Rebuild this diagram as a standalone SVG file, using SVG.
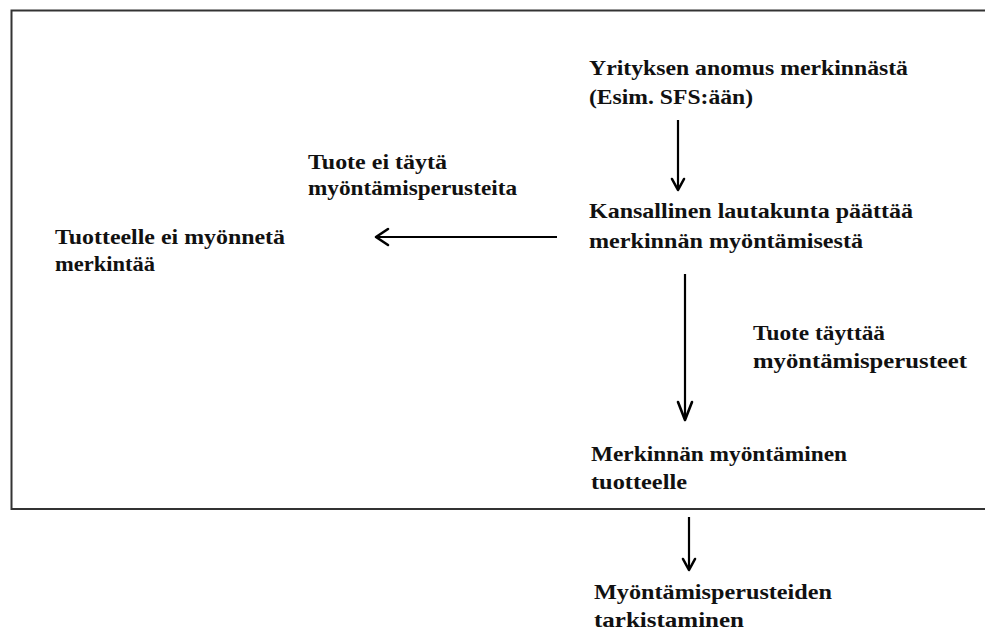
<svg xmlns="http://www.w3.org/2000/svg" width="985" height="634" viewBox="0 0 985 634">
<style>
text{font-family:"Liberation Serif","Times New Roman",serif;font-weight:bold;font-size:21px;fill:#111}
.ln{stroke:#000;stroke-width:2.2;fill:none}
.hd{stroke:#000;stroke-width:2.6;fill:none;stroke-linejoin:round;stroke-linecap:round}
</style>
<rect width="985" height="634" fill="#fff"/>
<path d="M990 10.5 H11.5 V509 H990" fill="none" stroke="#333" stroke-width="2"/>
<g id="n1"><text x="589" y="75" textLength="319" lengthAdjust="spacingAndGlyphs">Yrityksen anomus merkinnästä</text><text x="589" y="104" textLength="164" lengthAdjust="spacingAndGlyphs">(Esim. SFS:ään)</text></g>
<g id="n2"><text x="589" y="218" textLength="324" lengthAdjust="spacingAndGlyphs">Kansallinen lautakunta päättää</text><text x="589" y="248" textLength="274" lengthAdjust="spacingAndGlyphs">merkinnän myöntämisestä</text></g>
<g id="n3"><text x="55" y="244" textLength="230" lengthAdjust="spacingAndGlyphs">Tuotteelle ei myönnetä</text><text x="55" y="271" textLength="100" lengthAdjust="spacingAndGlyphs">merkintää</text></g>
<g id="n4"><text x="591" y="461" textLength="256" lengthAdjust="spacingAndGlyphs">Merkinnän myöntäminen</text><text x="591" y="489" textLength="96" lengthAdjust="spacingAndGlyphs">tuotteelle</text></g>
<g id="n5"><text x="594" y="599" textLength="238" lengthAdjust="spacingAndGlyphs">Myöntämisperusteiden</text><text x="594" y="627" textLength="150" lengthAdjust="spacingAndGlyphs">tarkistaminen</text></g>
<g id="labels"><text x="308" y="169" textLength="139" lengthAdjust="spacingAndGlyphs">Tuote ei täytä</text><text x="308" y="195" textLength="209" lengthAdjust="spacingAndGlyphs">myöntämisperusteita</text>
<text x="753" y="340" textLength="132" lengthAdjust="spacingAndGlyphs">Tuote täyttää</text><text x="753" y="368" textLength="214" lengthAdjust="spacingAndGlyphs">myöntämisperusteet</text></g>
<g id="connectors">
<path class="ln" d="M678 120 V189"/><path class="hd" d="M672 179 L678 190 L684 179"/>
<path class="ln" d="M557 237 H376"/><path class="hd" d="M388 229 L376 237 L388 245"/>
<path class="ln" d="M685 274 V419"/><path class="hd" d="M678 402 L685 420 L692 402"/>
<path class="ln" d="M689 517 V569"/><path class="hd" d="M683 559 L689 570 L695 559"/>
</g>
</svg>
